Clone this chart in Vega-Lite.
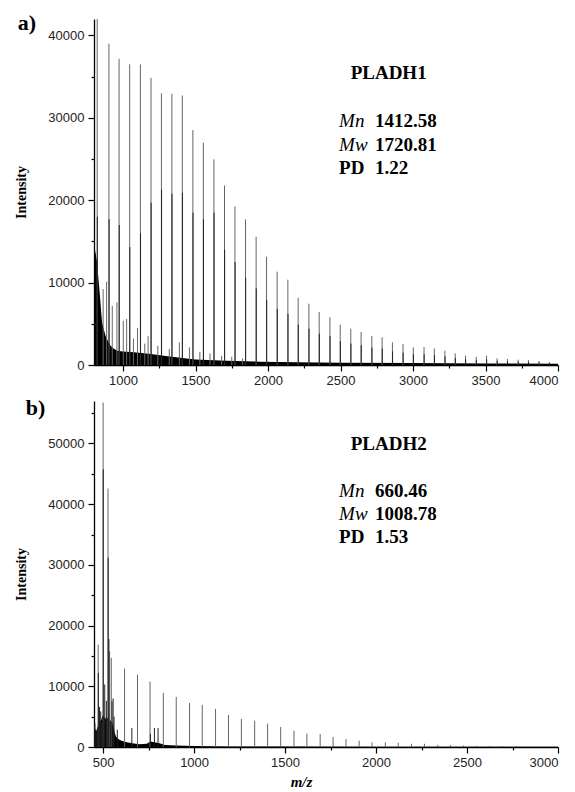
{
  "$schema": "https://vega.github.io/schema/vega-lite/v6.json",
  "background": "white",
  "padding": {"left": 14, "top": 12, "right": 4, "bottom": 0},
  "spacing": 10,
  "config": {
    "view": {"stroke": null},
    "axis": {
      "grid": false,
      "domainColor": "#000",
      "domainWidth": 1.3,
      "tickColor": "#000",
      "tickWidth": 1.2,
      "labelFont": "Liberation Sans",
      "labelFontSize": 13,
      "labelColor": "#222",
      "labelOverlap": false,
      "titleFont": "Liberation Serif",
      "titleFontWeight": "bold",
      "titleColor": "#000"
    }
  },
  "datasets": {
    "aMain": [
      {"mz": 822, "int": 42000}, {"mz": 903, "int": 39000}, {"mz": 973, "int": 37170}, {"mz": 1046, "int": 36490},
      {"mz": 1120, "int": 36490}, {"mz": 1193, "int": 34870}, {"mz": 1265, "int": 32970}, {"mz": 1337, "int": 32930},
      {"mz": 1409, "int": 32720}, {"mz": 1482, "int": 28520}, {"mz": 1554, "int": 26980}, {"mz": 1627, "int": 24960},
      {"mz": 1700, "int": 21800}, {"mz": 1772, "int": 19250}, {"mz": 1845, "int": 17680}, {"mz": 1918, "int": 15570},
      {"mz": 1990, "int": 13140}, {"mz": 2063, "int": 11330}, {"mz": 2137, "int": 10360}, {"mz": 2208, "int": 8170},
      {"mz": 2282, "int": 7440}, {"mz": 2353, "int": 6430}, {"mz": 2427, "int": 5790}, {"mz": 2498, "int": 4900},
      {"mz": 2571, "int": 4410}, {"mz": 2642, "int": 4000}, {"mz": 2716, "int": 3520}, {"mz": 2787, "int": 3360},
      {"mz": 2858, "int": 2750}, {"mz": 2931, "int": 2550}, {"mz": 3002, "int": 2140}, {"mz": 3076, "int": 2180},
      {"mz": 3147, "int": 2020}, {"mz": 3220, "int": 1740}, {"mz": 3291, "int": 1420}, {"mz": 3362, "int": 1130},
      {"mz": 3436, "int": 1000}, {"mz": 3507, "int": 1130}, {"mz": 3580, "int": 810}, {"mz": 3651, "int": 730},
      {"mz": 3725, "int": 650}, {"mz": 3796, "int": 610}, {"mz": 3869, "int": 490}, {"mz": 3940, "int": 360},
      {"mz": 863, "int": 9210}, {"mz": 887, "int": 10100}, {"mz": 926, "int": 7190}, {"mz": 958, "int": 7600},
      {"mz": 1002, "int": 5370}, {"mz": 1025, "int": 5580}, {"mz": 1072, "int": 3200}, {"mz": 1100, "int": 4500},
      {"mz": 1150, "int": 2600}, {"mz": 1173, "int": 3500}, {"mz": 1240, "int": 2340}, {"mz": 1319, "int": 1940},
      {"mz": 1389, "int": 2750}, {"mz": 1458, "int": 2140}, {"mz": 1530, "int": 1600}, {"mz": 1600, "int": 1400},
      {"mz": 1680, "int": 1100}, {"mz": 1750, "int": 1000}, {"mz": 1825, "int": 800}
    ],
    "aDark": [
      {"mz": 823, "int": 18000}, {"mz": 904, "int": 17700}, {"mz": 974, "int": 17000}, {"mz": 1047, "int": 14300},
      {"mz": 1121, "int": 16000}, {"mz": 1194, "int": 19700}, {"mz": 1266, "int": 21300}, {"mz": 1338, "int": 20800},
      {"mz": 1410, "int": 20900}, {"mz": 1483, "int": 18500}, {"mz": 1555, "int": 17700}, {"mz": 1628, "int": 18500},
      {"mz": 1701, "int": 14000}, {"mz": 1773, "int": 12500}, {"mz": 1846, "int": 10600}, {"mz": 1919, "int": 9300},
      {"mz": 1991, "int": 7900}, {"mz": 2064, "int": 6800}, {"mz": 2138, "int": 6200}, {"mz": 2209, "int": 4900},
      {"mz": 2283, "int": 4400}, {"mz": 2354, "int": 3800}, {"mz": 2428, "int": 3500}, {"mz": 2499, "int": 2900},
      {"mz": 2572, "int": 2600}, {"mz": 2643, "int": 2400}, {"mz": 2717, "int": 2100}, {"mz": 2788, "int": 2000},
      {"mz": 2859, "int": 1650}, {"mz": 2932, "int": 1500}, {"mz": 3003, "int": 1300}, {"mz": 3077, "int": 1300},
      {"mz": 3148, "int": 1200}, {"mz": 3221, "int": 1050}, {"mz": 3292, "int": 850}, {"mz": 3363, "int": 700},
      {"mz": 3437, "int": 600}, {"mz": 3508, "int": 680}, {"mz": 3581, "int": 500}, {"mz": 3652, "int": 440},
      {"mz": 3726, "int": 390}, {"mz": 3797, "int": 370}, {"mz": 3870, "int": 300}, {"mz": 3941, "int": 220}
    ],
    "aNoise": [
      {"mz": 800, "int": 14500}, {"mz": 806, "int": 14000}, {"mz": 812, "int": 13500}, {"mz": 818, "int": 12800},
      {"mz": 823, "int": 12500}, {"mz": 828, "int": 11000}, {"mz": 833, "int": 10000}, {"mz": 839, "int": 8800},
      {"mz": 845, "int": 7500}, {"mz": 850, "int": 6300}, {"mz": 856, "int": 5200}, {"mz": 862, "int": 4700},
      {"mz": 868, "int": 4300}, {"mz": 879, "int": 3550}, {"mz": 896, "int": 2900}, {"mz": 914, "int": 2340},
      {"mz": 935, "int": 2000}, {"mz": 960, "int": 1730}, {"mz": 1000, "int": 1650}, {"mz": 1076, "int": 1540},
      {"mz": 1192, "int": 1330}, {"mz": 1308, "int": 1050}, {"mz": 1424, "int": 810}, {"mz": 1500, "int": 660},
      {"mz": 1713, "int": 520}, {"mz": 1944, "int": 400}, {"mz": 2200, "int": 330}, {"mz": 2500, "int": 280},
      {"mz": 3000, "int": 230}, {"mz": 3500, "int": 190}, {"mz": 4000, "int": 160}
    ],
    "aBold": [
      {"mz": 2570, "int": 34720, "txt": "PLADH1"},
      {"mz": 2738, "int": 28930, "txt": "1412.58"},
      {"mz": 2738, "int": 26010, "txt": "1720.81"},
      {"mz": 2490, "int": 23190, "txt": "PD"},
      {"mz": 2738, "int": 23190, "txt": "1.22"}
    ],
    "aItal": [
      {"mz": 2490, "int": 28930, "txt": "Mn"},
      {"mz": 2490, "int": 26010, "txt": "Mw"}
    ],
    "bMain": [
      {"mz": 473, "int": 16880}, {"mz": 500, "int": 56760}, {"mz": 527, "int": 42570}, {"mz": 536, "int": 15770},
      {"mz": 545, "int": 14680}, {"mz": 618, "int": 12920}, {"mz": 689, "int": 11930}, {"mz": 758, "int": 10770},
      {"mz": 831, "int": 8910}, {"mz": 902, "int": 8250}, {"mz": 975, "int": 7260}, {"mz": 1045, "int": 6930},
      {"mz": 1118, "int": 6270}, {"mz": 1189, "int": 5280}, {"mz": 1260, "int": 4620}, {"mz": 1333, "int": 4345},
      {"mz": 1404, "int": 3850}, {"mz": 1476, "int": 3300}, {"mz": 1549, "int": 2690}, {"mz": 1620, "int": 2195},
      {"mz": 1693, "int": 2145}, {"mz": 1764, "int": 1650}, {"mz": 1835, "int": 1320}, {"mz": 1907, "int": 1040},
      {"mz": 1978, "int": 760}, {"mz": 2051, "int": 760}, {"mz": 2122, "int": 700}, {"mz": 2195, "int": 530},
      {"mz": 2266, "int": 530}, {"mz": 2339, "int": 365}, {"mz": 2409, "int": 310}, {"mz": 2481, "int": 250},
      {"mz": 2553, "int": 200}, {"mz": 2625, "int": 170}, {"mz": 2697, "int": 140}, {"mz": 2769, "int": 100}
    ],
    "bDark": [
      {"mz": 455, "int": 3900}, {"mz": 462, "int": 2500}, {"mz": 474, "int": 12200}, {"mz": 480, "int": 6600},
      {"mz": 487, "int": 5870}, {"mz": 493, "int": 4000}, {"mz": 501, "int": 45750}, {"mz": 509, "int": 10300},
      {"mz": 518, "int": 7600}, {"mz": 528, "int": 31200}, {"mz": 532, "int": 17800}, {"mz": 549, "int": 7500},
      {"mz": 555, "int": 8000}, {"mz": 560, "int": 5000}, {"mz": 578, "int": 2850}, {"mz": 658, "int": 3130},
      {"mz": 760, "int": 2200}, {"mz": 782, "int": 3130}, {"mz": 802, "int": 3130}
    ],
    "bNoise": [
      {"mz": 450, "int": 2500}, {"mz": 456, "int": 3000}, {"mz": 462, "int": 2600}, {"mz": 468, "int": 3200},
      {"mz": 475, "int": 3500}, {"mz": 482, "int": 4200}, {"mz": 490, "int": 4500}, {"mz": 497, "int": 5200},
      {"mz": 505, "int": 5000}, {"mz": 512, "int": 4600}, {"mz": 520, "int": 5000}, {"mz": 527, "int": 4700},
      {"mz": 535, "int": 4600}, {"mz": 542, "int": 4300}, {"mz": 550, "int": 4000}, {"mz": 557, "int": 3300},
      {"mz": 565, "int": 2200}, {"mz": 572, "int": 1700}, {"mz": 580, "int": 1400}, {"mz": 595, "int": 1100},
      {"mz": 610, "int": 950}, {"mz": 630, "int": 800}, {"mz": 660, "int": 600}, {"mz": 700, "int": 450},
      {"mz": 740, "int": 550}, {"mz": 760, "int": 900}, {"mz": 780, "int": 800}, {"mz": 810, "int": 600},
      {"mz": 840, "int": 350}, {"mz": 900, "int": 250}, {"mz": 1000, "int": 150}, {"mz": 1200, "int": 100},
      {"mz": 1500, "int": 80}, {"mz": 2000, "int": 60}, {"mz": 3000, "int": 40}
    ],
    "bBold": [
      {"mz": 1861, "int": 48930, "txt": "PLADH2"},
      {"mz": 1994, "int": 41130, "txt": "660.46"},
      {"mz": 1994, "int": 37400, "txt": "1008.78"},
      {"mz": 1797, "int": 33560, "txt": "PD"},
      {"mz": 1994, "int": 33560, "txt": "1.53"}
    ],
    "bItal": [
      {"mz": 1797, "int": 41130, "txt": "Mn"},
      {"mz": 1797, "int": 37400, "txt": "Mw"}
    ]
  },
  "vconcat": [
    {
      "width": 464,
      "height": 346,
      "title": {"text": "a)", "anchor": "start", "frame": "bounds", "font": "Liberation Serif", "fontSize": 22, "fontWeight": "bold", "color": "#000", "offset": 0, "dy": 16, "dx": 3},
      "encoding": {
        "x": {
          "field": "mz", "type": "quantitative",
          "scale": {"domain": [800, 4000], "nice": false, "zero": false},
          "axis": {
            "title": null, "format": "d",
            "values": [1000, 1250, 1500, 1750, 2000, 2250, 2500, 2750, 3000, 3250, 3500, 3750, 4000],
            "labelExpr": "datum.value % 500 === 0 ? datum.label : ''",
            "tickSize": {"condition": {"test": "datum.value % 500 === 0", "value": 6}, "value": 3},
            "labelPadding": 3
          }
        },
        "y": {
          "field": "int", "type": "quantitative",
          "scale": {"domain": [0, 42000], "nice": false},
          "axis": {
            "title": "Intensity", "titleFontSize": 14, "titlePadding": 19, "format": "d",
            "values": [0, 5000, 10000, 15000, 20000, 25000, 30000, 35000, 40000],
            "labelExpr": "datum.value % 10000 === 0 ? datum.label : ''",
            "tickSize": {"condition": {"test": "datum.value % 10000 === 0", "value": 6}, "value": 3},
            "labelPadding": 4
          }
        }
      },
      "layer": [
        {"data": {"name": "aNoise"}, "mark": {"type": "area", "color": "#000", "clip": true}},
        {"data": {"name": "aMain"}, "mark": {"type": "rule", "color": "#666", "strokeWidth": 1, "clip": true}, "encoding": {"y2": {"datum": 0}}},
        {"data": {"name": "aDark"}, "mark": {"type": "rule", "color": "#222", "strokeWidth": 1, "clip": true}, "encoding": {"y2": {"datum": 0}}},
        {"data": {"name": "aBold"}, "mark": {"type": "text", "font": "Liberation Serif", "fontSize": 19, "fontWeight": "bold", "align": "left", "baseline": "alphabetic", "color": "#000"}, "encoding": {"text": {"field": "txt"}}},
        {"data": {"name": "aItal"}, "mark": {"type": "text", "font": "Liberation Serif", "fontSize": 19, "fontStyle": "italic", "align": "left", "baseline": "alphabetic", "color": "#000"}, "encoding": {"text": {"field": "txt"}}}
      ]
    },
    {
      "width": 464,
      "height": 346,
      "title": {"text": "b)", "anchor": "start", "frame": "bounds", "font": "Liberation Serif", "fontSize": 22, "fontWeight": "bold", "color": "#000", "offset": 0, "dy": 19, "dx": 11},
      "encoding": {
        "x": {
          "field": "mz", "type": "quantitative",
          "scale": {"domain": [450, 3000], "nice": false, "zero": false},
          "axis": {
            "title": "m/z", "titleFontSize": 15, "titleFontStyle": "italic", "titleX": 207, "titlePadding": 5, "format": "d",
            "values": [500, 750, 1000, 1250, 1500, 1750, 2000, 2250, 2500, 2750, 3000],
            "labelExpr": "datum.value % 500 === 0 ? datum.label : ''",
            "tickSize": {"condition": {"test": "datum.value % 500 === 0", "value": 6}, "value": 3},
            "labelPadding": 3
          }
        },
        "y": {
          "field": "int", "type": "quantitative",
          "scale": {"domain": [0, 57000], "nice": false},
          "axis": {
            "title": "Intensity", "titleFontSize": 14, "titlePadding": 19, "format": "d",
            "values": [0, 5000, 10000, 15000, 20000, 25000, 30000, 35000, 40000, 45000, 50000, 55000],
            "labelExpr": "datum.value % 10000 === 0 ? datum.label : ''",
            "tickSize": {"condition": {"test": "datum.value % 10000 === 0", "value": 6}, "value": 3},
            "labelPadding": 4
          }
        }
      },
      "layer": [
        {"data": {"name": "bNoise"}, "mark": {"type": "area", "color": "#000", "clip": true}},
        {"data": {"name": "bMain"}, "mark": {"type": "rule", "color": "#666", "strokeWidth": 1, "clip": true}, "encoding": {"y2": {"datum": 0}}},
        {"data": {"name": "bDark"}, "mark": {"type": "rule", "color": "#222", "strokeWidth": 1, "clip": true}, "encoding": {"y2": {"datum": 0}}},
        {"data": {"name": "bBold"}, "mark": {"type": "text", "font": "Liberation Serif", "fontSize": 19, "fontWeight": "bold", "align": "left", "baseline": "alphabetic", "color": "#000"}, "encoding": {"text": {"field": "txt"}}},
        {"data": {"name": "bItal"}, "mark": {"type": "text", "font": "Liberation Serif", "fontSize": 19, "fontStyle": "italic", "align": "left", "baseline": "alphabetic", "color": "#000"}, "encoding": {"text": {"field": "txt"}}}
      ]
    }
  ]
}
